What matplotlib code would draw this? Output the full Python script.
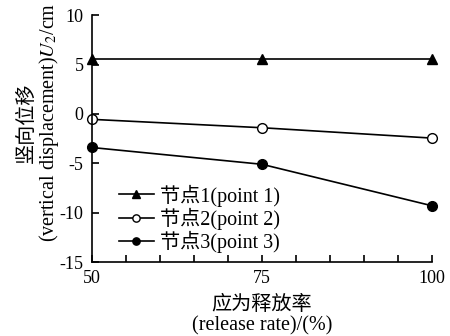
import matplotlib
matplotlib.use("Agg")
import matplotlib.pyplot as plt
from matplotlib.ticker import MultipleLocator

plt.rcParams['font.family'] = ['Liberation Serif', 'Noto Sans CJK SC']
plt.rcParams['mathtext.fontset'] = 'stix'
plt.rcParams['axes.unicode_minus'] = False

release_rate = [50, 75, 100]
point1 = [5.6, 5.6, 5.6]
point2 = [-0.55, -1.4, -2.45]
point3 = [-3.4, -5.1, -9.3]
labels = ['节点1(point 1)', '节点2(point 2)', '节点3(point 3)']

fig = plt.figure(figsize=(4.5, 3.36), dpi=100)
ax = fig.add_axes([0.204, 0.22, 0.756, 0.735])

ax.plot(release_rate, point1, '-^', color='black', lw=1.2, ms=7,
        mfc='black', clip_on=False, label=labels[0])
ax.plot(release_rate, point2, '-o', color='black', lw=1.2, ms=7,
        mfc='white', clip_on=False, label=labels[1])
ax.plot(release_rate, point3, '-o', color='black', lw=1.2, ms=7,
        mfc='black', clip_on=False, label=labels[2])

ax.set_xlim(50, 100)
ax.set_ylim(-15, 10)
ax.set_xticks([50, 75, 100])
ax.xaxis.set_minor_locator(MultipleLocator(5))
ax.set_yticks([-15, -10, -5, 0, 5, 10])
ax.spines['top'].set_visible(False)
ax.spines['right'].set_visible(False)
for s in ax.spines.values():
    s.set_linewidth(1.2)
ax.tick_params(direction='in', length=5, width=1.2, labelsize=13, pad=6)
ax.tick_params(which='minor', direction='in', length=5, width=1.2)

ax.set_xlabel('应为释放率\n(release rate)/(%)', fontsize=14.5, linespacing=1.1,
              labelpad=6)
ax.set_ylabel('竖向位移\n(vertical displacement)$U_2$/cm', fontsize=14.5,
              linespacing=1.0)
ax.yaxis.set_label_coords(-0.092, 0.565)

leg = ax.legend(loc='lower left', bbox_to_anchor=(0.055, 0.005), frameon=False,
                fontsize=14.5, handlelength=1.75, handletextpad=0.3,
                labelspacing=0.05, borderaxespad=0, markerscale=0.75)

fig.savefig('out.png', dpi=100)
